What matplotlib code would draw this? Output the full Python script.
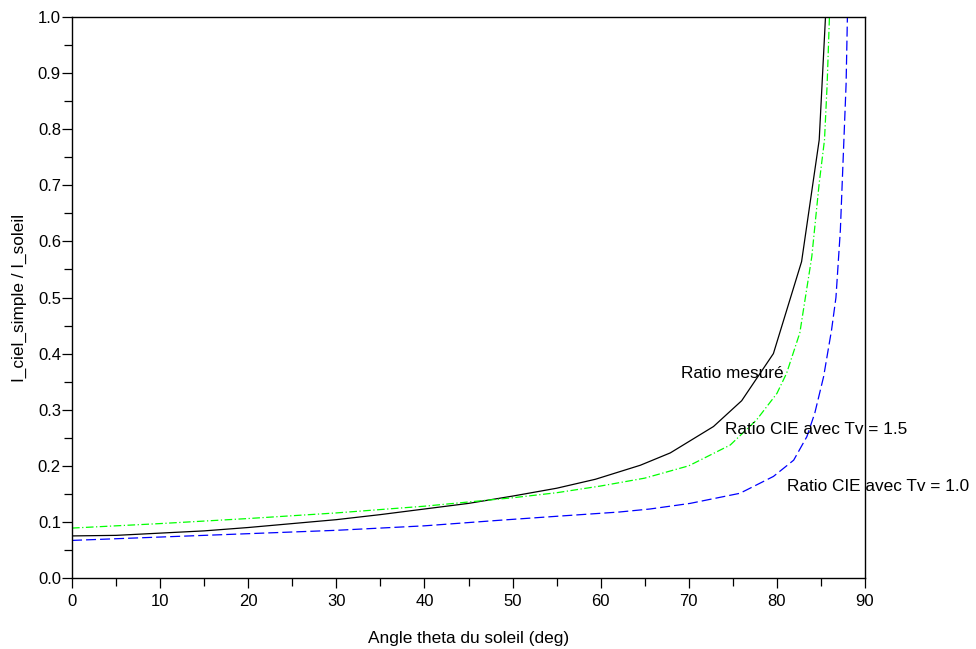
import matplotlib
matplotlib.use("Agg")
import matplotlib.pyplot as plt
from matplotlib.ticker import MultipleLocator, FormatStrFormatter

plt.rcParams['font.family'] = ['Liberation Sans', 'DejaVu Sans']
plt.rcParams['lines.scale_dashes'] = False

# Measured ratio
x_mes = [0, 5, 10, 15, 20, 25, 30, 35, 40, 45, 50, 55, 59.4, 64.5, 67.9, 72.8, 76.0, 79.6, 82.8, 84.8, 86.0]
y_mes = [0.075, 0.076, 0.080, 0.084, 0.090, 0.097, 0.104, 0.113, 0.123, 0.133, 0.146, 0.160, 0.176,
         0.201, 0.223, 0.270, 0.316, 0.400, 0.564, 0.781, 1.15]

# CIE ratio, Tv = 1.5
x_15 = [0, 10, 20, 30, 40, 50, 55, 60, 65, 70, 74.7, 77.7, 80.0, 81.1, 82.6, 83.96, 84.8, 85.4, 85.7, 85.96, 86.2]
y_15 = [0.089, 0.097, 0.106, 0.116, 0.128, 0.143, 0.152, 0.164, 0.178, 0.200, 0.237, 0.282, 0.329,
        0.365, 0.437, 0.573, 0.704, 0.781, 0.88, 1.0, 1.1]

# CIE ratio, Tv = 1.0
x_10 = [0, 10, 20, 30, 40, 48.6, 55, 62.1, 65.6, 70.15, 75.8, 79.6, 81.9, 83.4, 84.3, 85.3, 86.2, 86.7,
        87.2, 87.6, 87.85, 88.0, 88.2]
y_10 = [0.067, 0.073, 0.079, 0.085, 0.093, 0.103, 0.110, 0.1176, 0.123, 0.133, 0.151, 0.181, 0.21,
        0.252, 0.294, 0.359, 0.442, 0.50, 0.62, 0.78, 0.88, 1.0, 1.12]

labels = ["Ratio mesuré", "Ratio CIE avec Tv = 1.5", "Ratio CIE avec Tv = 1.0"]
label_pos = [(69.1, 0.365), (74.1, 0.264), (81.2, 0.163)]

fig = plt.figure(figsize=(9.76, 6.49), dpi=100)
ax = fig.add_axes([0.0738, 0.1094, 0.8125, 0.8644])

ax.plot(x_mes, y_mes, color='black', lw=0.9)
ax.plot(x_15, y_15, color='#00ff00', lw=0.9, dashes=(5.5, 1.8, 0.9, 1.8))
ax.plot(x_10, y_10, color='#0000ff', lw=0.9, dashes=(7.2, 2.9))

for txt, (tx, ty) in zip(labels, label_pos):
    ax.text(tx, ty, txt, fontsize=12.4, va='center', ha='left', clip_on=False)

ax.set_xlim(0, 90)
ax.set_ylim(0, 1.0)
ax.xaxis.set_major_locator(MultipleLocator(10))
ax.xaxis.set_minor_locator(MultipleLocator(5))
ax.yaxis.set_major_locator(MultipleLocator(0.1))
ax.yaxis.set_minor_locator(MultipleLocator(0.05))
ax.yaxis.set_major_formatter(FormatStrFormatter('%.1f'))
ax.tick_params(which='major', direction='out', length=7.5, width=0.9, labelsize=12,
               top=False, right=False)
ax.tick_params(axis='y', which='major', pad=0.5)
ax.tick_params(axis='x', which='major', pad=4)
ax.tick_params(which='minor', direction='out', length=5.5, width=0.9, top=False, right=False)
for s in ax.spines.values():
    s.set_linewidth(1.0)

ax.set_xlabel("Angle theta du soleil (deg)", fontsize=12.4, labelpad=16)
ax.set_ylabel("I_ciel_simple / I_soleil", fontsize=12.4, labelpad=8)

fig.savefig("out.png", dpi=100)
